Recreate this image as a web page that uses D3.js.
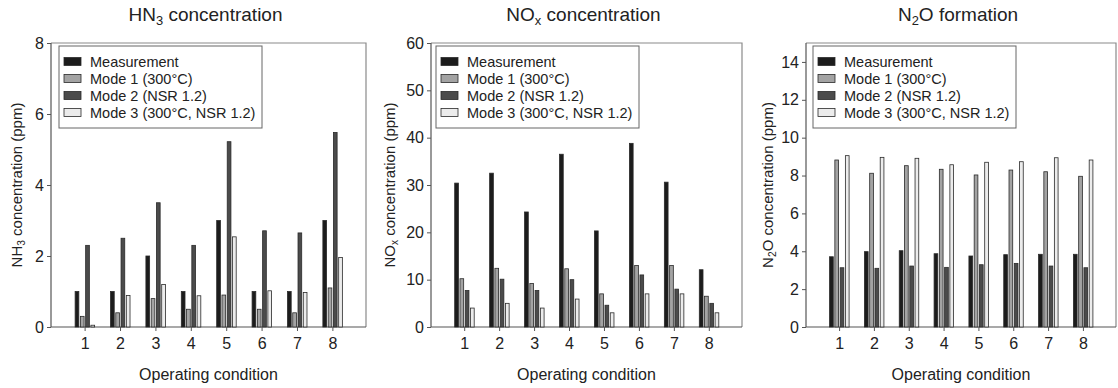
<!DOCTYPE html>
<html>
<head>
<meta charset="utf-8">
<script src="https://cdn.jsdelivr.net/npm/d3@7"></script>
<style>
  body { margin: 0; background: #fff; }
  svg { font-family: 'Liberation Sans', Arial, sans-serif; }
</style>
</head>
<body>
<div id="chart"></div>
<script>
const conditions = [1, 2, 3, 4, 5, 6, 7, 8]
const seriesNames = ['Measurement', 'Mode 1 (300°C)', 'Mode 2 (NSR 1.2)', 'Mode 3 (300°C, NSR 1.2)']

// NH3 (ppm)
const nh3Measurement = [1.0, 1.0, 2.0, 1.0, 3.0, 1.0, 1.0, 3.0]
const nh3Mode1 = [0.3, 0.4, 0.8, 0.5, 0.9, 0.5, 0.4, 1.1]
const nh3Mode2 = [2.3, 2.5, 3.5, 2.3, 5.22, 2.71, 2.65, 5.48]
const nh3Mode3 = [0.05, 0.89, 1.2, 0.88, 2.54, 1.02, 0.97, 1.96]

// NOx (ppm)
const noxMeasurement = [30.4, 32.5, 24.3, 36.5, 20.3, 38.8, 30.6, 12.1]
const noxMode1 = [10.2, 12.4, 9.2, 12.3, 7.0, 13.0, 13.0, 6.5]
const noxMode2 = [7.7, 10.1, 7.7, 10.0, 4.6, 11.0, 8.0, 5.0]
const noxMode3 = [4.0, 5.0, 4.0, 5.9, 3.0, 7.0, 7.0, 3.0]

// N2O (ppm)
const n2oMeasurement = [3.71, 3.98, 4.03, 3.87, 3.75, 3.82, 3.84, 3.84]
const n2oMode1 = [8.82, 8.12, 8.52, 8.33, 8.03, 8.29, 8.2, 7.96]
const n2oMode2 = [3.13, 3.1, 3.22, 3.15, 3.29, 3.36, 3.22, 3.13]
const n2oMode3 = [9.05, 8.96, 8.91, 8.57, 8.7, 8.73, 8.94, 8.82]

const nh3Ticks = [0, 2, 4, 6, 8]
const noxTicks = [0, 10, 20, 30, 40, 50, 60]
const n2oTicks = [0, 2, 4, 6, 8, 10, 12, 14]

const fills = ['#1c1c1c', '#a3a3a3', '#4b4b4b', '#ececec']
const strokeColor = '#2a2a2a'

const svg = d3.select('#chart')
  .append('svg')
  .attr('width', 1118)
  .attr('height', 388)

const plotTop = 43
const plotBottom = 327

// text with a subscript part: parts = [[text, isSub], ...]
function richText (sel, parts, size) {
  let shifted = false
  parts.forEach(([t, sub]) => {
    let dy = 0
    if (sub && !shifted) { dy = size * 0.2; shifted = true }
    if (!sub && shifted) { dy = -size * 0.2; shifted = false }
    sel.append('tspan')
      .attr('font-size', sub ? size * 0.68 : size)
      .attr('dy', dy)
      .text(t)
  })
}

function drawPanel (cfg) {
  const g = svg.append('g')
  const series = cfg.series

  const x = d3.scaleLinear().domain([0.05, 8.95]).range([cfg.left, cfg.right])
  const y = d3.scaleLinear().domain([0, cfg.yMax]).range([plotBottom, plotTop])
  const inner = d3.scaleBand().domain(d3.range(4)).range([-10, 10]).paddingInner(0.2)

  // frame (top + right lighter)
  g.append('path')
    .attr('d', `M${cfg.left},${plotTop}H${cfg.right}V${plotBottom}`)
    .attr('fill', 'none')
    .attr('stroke', '#8a8a8a')
    .attr('stroke-width', 1.2)

  // y axis
  const yAxis = d3.axisLeft(y).tickValues(cfg.ticks).tickSize(4).tickSizeOuter(0).tickPadding(3)
  const ya = g.append('g')
    .attr('transform', `translate(${cfg.left},0)`)
    .call(yAxis)
  ya.select('.domain').attr('d', `M0,${plotTop}V${plotBottom}`).attr('stroke', '#555').attr('stroke-width', 1.2)
  ya.selectAll('.tick line').attr('stroke', '#555')
  ya.selectAll('.tick text').attr('font-size', 16).attr('fill', '#222')
    .attr('font-family', "'Liberation Sans', Arial, sans-serif")

  // x axis
  const xAxis = d3.axisBottom(x).tickValues(conditions).tickSize(4).tickSizeOuter(0).tickPadding(7)
  const xa = g.append('g')
    .attr('transform', `translate(0,${plotBottom})`)
    .call(xAxis)
  xa.select('.domain').attr('d', `M${cfg.left},0H${cfg.right}`).attr('stroke', '#555').attr('stroke-width', 1.2)
  xa.selectAll('.tick line').attr('stroke', '#555')
  xa.selectAll('.tick text').attr('font-size', 16).attr('fill', '#222')
    .attr('font-family', "'Liberation Sans', Arial, sans-serif")

  // bars
  series.forEach((vals, si) => {
    g.append('g')
      .selectAll('rect')
      .data(vals)
      .join('rect')
      .attr('x', (d, i) => x(conditions[i]) + inner(si) + 0.5)
      .attr('y', d => y(d))
      .attr('width', inner.bandwidth() - 0.5)
      .attr('height', d => plotBottom - y(d))
      .attr('fill', fills[si])
      .attr('stroke', strokeColor)
      .attr('stroke-width', 0.8)
  })

  // legend
  const lx = cfg.left + cfg.legendOffset
  const lg = g.append('g').attr('transform', `translate(${lx},46)`)
  lg.append('rect')
    .attr('width', 203).attr('height', 82)
    .attr('fill', '#fff').attr('stroke', '#666').attr('stroke-width', 1)
  seriesNames.forEach((name, i) => {
    const row = lg.append('g').attr('transform', `translate(5,${16 + i * 17})`)
    row.append('rect')
      .attr('x', 0).attr('y', -4.5).attr('width', 17).attr('height', 8)
      .attr('fill', fills[i]).attr('stroke', strokeColor).attr('stroke-width', 0.8)
    row.append('text')
      .attr('x', 26).attr('y', 5)
      .attr('font-size', 14.5).attr('fill', '#222')
      .text(name)
  })

  // title
  const title = g.append('text')
    .attr('x', (cfg.left + cfg.right) / 2 - 3)
    .attr('y', 21)
    .attr('text-anchor', 'middle')
    .attr('fill', '#222')
  richText(title, cfg.title, 19)

  // y label
  const yl = g.append('text')
    .attr('transform', `translate(${cfg.ylabelX},${(plotTop + plotBottom) / 2}) rotate(-90)`)
    .attr('text-anchor', 'middle')
    .attr('fill', '#222')
  richText(yl, cfg.ylabel, 15)

  // x label
  g.append('text')
    .attr('x', (cfg.left + cfg.right) / 2)
    .attr('y', 380)
    .attr('text-anchor', 'middle')
    .attr('font-size', 16)
    .attr('fill', '#222')
    .text('Operating condition')
}

drawPanel({
  left: 51, right: 366, yMax: 8, ticks: nh3Ticks, legendOffset: 8, ylabelX: 22,
  series: [nh3Measurement, nh3Mode1, nh3Mode2, nh3Mode3],
  title: [['HN', false], ['3', true], [' concentration', false]],
  ylabel: [['NH', false], ['3', true], [' concentration (ppm)', false]]
})

drawPanel({
  left: 431, right: 742, yMax: 60, ticks: noxTicks, legendOffset: 5, ylabelX: 395,
  series: [noxMeasurement, noxMode1, noxMode2, noxMode3],
  title: [['NO', false], ['x', true], [' concentration', false]],
  ylabel: [['NO', false], ['x', true], [' concentration (ppm)', false]]
})

drawPanel({
  left: 806, right: 1116, yMax: 15, ticks: n2oTicks, legendOffset: 7, ylabelX: 773,
  series: [n2oMeasurement, n2oMode1, n2oMode2, n2oMode3],
  title: [['N', false], ['2', true], ['O formation', false]],
  ylabel: [['N', false], ['2', true], ['O concentration (ppm)', false]]
})
</script>
</body>
</html>
